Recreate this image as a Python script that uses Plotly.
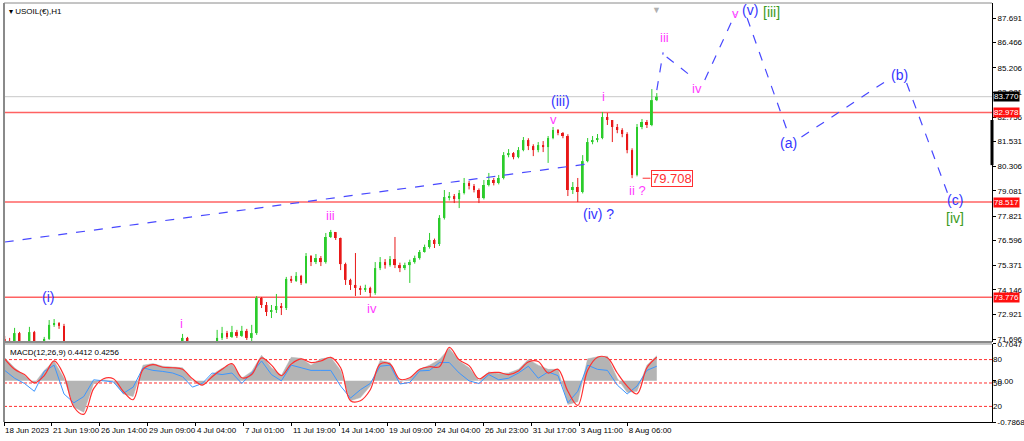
import plotly.graph_objects as go

# price candles (one candle ~ 7 hourly bars)
closes = [71.60, 71.50, 71.99, 71.45, 71.40, 72.04, 71.50, 71.35, 71.70, 72.40,
          72.49, 72.35, 71.40, 71.00, 70.60, 70.40, 70.50, 70.70, 70.80, 70.90,
          70.80, 70.70, 70.50, 70.40, 70.50, 70.80, 71.00, 71.10, 71.00, 71.20,
          71.10, 71.20, 71.30, 71.20, 71.10, 71.30, 71.75, 71.40, 71.20, 71.00,
          71.10, 71.30, 71.40, 71.75, 71.99, 71.80, 72.04, 71.85, 72.10, 71.75,
          71.99, 73.74, 73.39, 73.04, 73.14, 73.34, 73.24, 74.69, 74.59, 74.84,
          74.49, 75.83, 75.53, 75.73, 75.53, 76.78, 77.03, 76.73, 75.43, 74.64,
          74.39, 74.24, 74.14, 74.24, 73.99, 75.23, 75.53, 75.38, 75.68, 75.38,
          75.23, 75.38, 75.53, 75.73, 76.03, 76.28, 76.63, 76.43, 77.73, 78.77,
          78.82, 78.67, 78.97, 79.47, 79.32, 79.12, 78.72, 79.37, 79.62, 79.47,
          79.72, 80.86, 80.96, 80.76, 81.11, 81.61, 81.31, 81.11, 81.36, 81.26,
          81.71, 82.11, 81.96, 81.81, 79.12, 79.27, 79.02, 80.56, 81.51, 81.61,
          81.71, 82.76, 82.61, 82.26, 82.11, 81.91, 81.11, 79.87, 82.26, 82.51,
          82.36, 83.60, 83.77]
highs = [71.85, 71.75, 72.25, 72.05, 71.50, 72.30, 72.10, 71.55, 71.80, 72.64,
         72.69, 72.54, 72.45, 71.45, 71.10, 70.70, 70.60, 70.80, 70.90, 71.00,
         71.00, 70.85, 70.75, 70.60, 70.60, 70.90, 71.10, 71.20, 71.20, 71.30,
         71.30, 71.30, 71.40, 71.40, 71.30, 71.40, 71.95, 71.80, 71.45, 71.25,
         71.25, 71.45, 71.50, 72.15, 72.30, 72.10, 72.35, 72.15, 72.35, 72.20,
         72.40, 73.84, 73.79, 73.54, 73.39, 73.94, 73.49, 74.79, 74.84, 75.03,
         74.89, 75.98, 75.88, 75.93, 75.83, 76.98, 77.13, 76.98, 76.75, 75.50,
         74.70, 75.98, 74.35, 74.40, 74.30, 75.53, 75.78, 75.68, 75.83, 76.78,
         75.50, 75.50, 75.65, 75.85, 76.13, 76.40, 76.98, 76.70, 77.87, 79.12,
         79.02, 78.92, 79.12, 79.72, 79.57, 79.42, 79.20, 79.62, 79.97, 79.72,
         79.87, 81.01, 81.16, 81.01, 81.26, 81.76, 81.70, 81.40, 81.51, 81.56,
         81.81, 82.26, 82.16, 82.01, 81.90, 79.52, 79.72, 80.86, 81.71, 81.81,
         81.91, 83.01, 82.96, 82.51, 82.41, 82.20, 82.00, 81.20, 82.41, 82.66,
         82.61, 84.15, 83.95]
lows = [71.45, 71.35, 71.40, 71.35, 71.30, 71.35, 71.45, 71.25, 71.30, 71.65,
        72.30, 72.20, 71.15, 70.90, 70.50, 70.30, 70.35, 70.45, 70.65, 70.75,
        70.70, 70.60, 70.40, 70.30, 70.35, 70.45, 70.75, 70.95, 70.90, 70.95,
        71.00, 71.05, 71.15, 71.10, 71.00, 71.05, 71.25, 71.30, 71.10, 70.90,
        70.95, 71.00, 71.20, 71.35, 71.65, 71.70, 71.75, 71.75, 71.80, 71.65,
        71.40, 71.90, 73.24, 72.84, 72.74, 72.99, 72.89, 73.14, 74.49, 74.54,
        74.39, 74.45, 75.33, 75.43, 75.33, 75.45, 76.73, 76.63, 75.13, 74.39,
        74.14, 73.84, 73.89, 74.04, 73.79, 73.90, 75.13, 75.20, 75.30, 75.23,
        75.03, 75.13, 74.49, 75.45, 75.65, 76.00, 76.20, 76.23, 76.33, 77.65,
        78.60, 78.47, 78.22, 78.90, 79.15, 79.00, 78.47, 78.65, 79.30, 79.35,
        79.40, 79.65, 80.75, 80.65, 80.70, 81.05, 81.11, 80.81, 81.00, 81.01,
        80.47, 81.65, 81.85, 81.70, 78.82, 78.92, 78.52, 78.95, 80.50, 81.40,
        81.50, 81.65, 82.36, 81.51, 81.95, 81.75, 80.95, 79.71, 79.80, 82.15,
        82.21, 82.30, 83.55]
first_open = 71.70
opens = [first_open] + closes[:-1]
bars = list(range(1, 1 + 7 * len(closes), 7))

# MACD panel (one value every 14 bars)
macd_hist = [0.44, 0.25, 0.10, -0.05, 0.20, 0.38, 0.05, -0.50, -0.60, -0.05,
             0.02, 0.00, -0.25, -0.30, 0.30, 0.33, 0.28, 0.27, 0.25, 0.00,
             -0.08, 0.12, 0.24, 0.32, 0.05, 0.18, 0.49, 0.25, 0.10, 0.45,
             0.43, 0.30, 0.42, 0.45, 0.20, -0.38, -0.32, -0.10, 0.39, 0.35,
             -0.02, 0.04, 0.22, 0.30, 0.41, 0.62, 0.38, 0.25, 0.00, 0.17,
             0.14, 0.15, 0.22, 0.41, 0.30, 0.22, 0.22, -0.45, -0.40, 0.42,
             0.46, 0.47, 0.05, -0.22, -0.20, 0.30, 0.48]
macd_red = [0.42, 0.22, 0.12, -0.04, 0.10, 0.38, 0.10, -0.50, -0.64, -0.15,
            0.04, 0.04, -0.20, -0.36, 0.22, 0.31, 0.26, 0.25, 0.22, 0.04,
            -0.08, 0.08, 0.22, 0.33, 0.06, 0.12, 0.44, 0.30, 0.10, 0.32,
            0.42, 0.35, 0.38, 0.45, 0.25, -0.38, -0.38, -0.17, 0.32, 0.32,
            0.03, 0.06, 0.22, 0.27, 0.27, 0.64, 0.40, 0.29, 0.04, 0.15,
            0.16, 0.12, 0.19, 0.36, 0.37, 0.15, 0.22, -0.20, -0.47, 0.20,
            0.45, 0.44, 0.15, -0.10, -0.25, 0.25, 0.45]
macd_blue = [0.20, 0.05, -0.05, -0.20, 0.18, 0.30, -0.25, -0.42, -0.30, 0.02,
             0.00, -0.02, -0.24, -0.12, 0.25, 0.20, 0.18, 0.15, 0.08, -0.12,
             -0.05, 0.15, 0.12, 0.15, -0.05, 0.15, 0.38, 0.12, 0.00, 0.30,
             0.25, 0.20, 0.20, 0.20, -0.10, -0.33, -0.17, -0.05, 0.28, 0.30,
             -0.06, -0.03, 0.19, 0.20, 0.35, 0.35, 0.15, 0.00, -0.05, 0.12,
             0.02, 0.05, 0.15, 0.28, 0.05, 0.17, 0.10, -0.42, -0.20, 0.30,
             0.22, 0.20, -0.08, -0.25, -0.10, 0.20, 0.28]
macd_bars = list(range(1, 1 + 14 * len(macd_hist), 14))

# axis labels
price_ticks = [87.691, 86.466, 85.206, 83.981, 82.756, 81.531, 80.306,
               79.081, 77.821, 76.596, 75.371, 74.146, 72.921, 71.696]
date_labels = ["18 Jun 2023", "21 Jun 19:00", "26 Jun 14:00", "29 Jun 09:00",
               "4 Jul 04:00", "7 Jul 01:00", "11 Jul 19:00", "14 Jul 14:00",
               "19 Jul 09:00", "24 Jul 04:00", "26 Jul 23:00", "31 Jul 17:00",
               "3 Aug 11:00", "8 Aug 06:00"]
date_bars = [68 * i for i in range(len(date_labels))]

levels = [82.978, 78.517, 73.776]
last_price = 83.770
marked_low = 79.708

# trendline and projected wave path (bar, price)
trend_bars = [1, 827]
trend_prices = [76.53, 80.42]
proj_segments = [([925, 934], [84.10, 85.98]),
                 ([939, 979], [85.75, 84.65]),
                 ([993, 1036], [84.60, 87.89]),
                 ([1053, 1111], [87.69, 81.96]),
                 ([1130, 1252], [81.76, 84.60]),
                 ([1279, 1337], [84.45, 78.97])]

# wave labels: (text, bar, price, colour, size)
BLUE = "#3535ff"
PINK = "#ff3cff"
GREEN = "#3c9a1c"
wave_labels = [("(i)", 62, 73.79, BLUE, 14), ("i", 251, 72.49, PINK, 13),
               ("iii", 463, 77.87, PINK, 13), ("iv", 521, 73.24, PINK, 13),
               ("v", 778, 82.61, PINK, 13), ("(iii)", 788, 83.56, BLUE, 14),
               ("i", 849, 83.76, PINK, 13), ("(iv) ?", 842, 77.92, BLUE, 14),
               ("ii ?", 897, 79.12, PINK, 13), ("iii", 936, 86.74, PINK, 13),
               ("iv", 982, 84.20, PINK, 13), ("v", 1036, 87.94, PINK, 13),
               ("(v)", 1057, 88.09, BLUE, 14), ("[iii]", 1088, 87.99, GREEN, 14),
               ("(a)", 1111, 81.46, BLUE, 14), ("(b)", 1269, 84.85, BLUE, 14),
               ("(c)", 1347, 78.62, BLUE, 14), ("[iv]", 1347, 77.73, GREEN, 14)]

FONT = "Liberation Sans"
MAIN_DOM = [0.1909, 1]
MACD_DOM = [0, 0.1862]
UP = "#2ccc2c"
DOWN = "#e81818"

fig = go.Figure()

# candles drawn as wick lines + thin bars for bodies
for rising, col in [(True, UP), (False, DOWN)]:
    idx = [i for i in range(len(closes)) if (closes[i] >= opens[i]) == rising]
    wx, wy = [], []
    for i in idx:
        wx += [bars[i], bars[i], None]
        wy += [lows[i], highs[i], None]
    fig.add_trace(go.Scatter(x=wx, y=wy, mode="lines", line=dict(color=col, width=1),
                             showlegend=False, hoverinfo="skip"))
    fig.add_trace(go.Bar(x=[bars[i] for i in idx],
                         y=[max(abs(closes[i] - opens[i]), 0.03) for i in idx],
                         base=[min(closes[i], opens[i]) for i in idx],
                         width=2.8, marker=dict(color=col, line=dict(width=0)),
                         showlegend=False, hoverinfo="skip"))

fig.add_trace(go.Scatter(x=trend_bars, y=trend_prices, mode="lines",
                         line=dict(color="#4848ff", width=1.2, dash="dash"),
                         showlegend=False, hoverinfo="skip"))
for sx, sy in proj_segments:
    fig.add_trace(go.Scatter(x=sx, y=sy, mode="lines",
                             line=dict(color="#4848ff", width=1.2, dash="dash"),
                             showlegend=False, hoverinfo="skip"))

# MACD panel
fig.add_trace(go.Scatter(x=macd_bars, y=macd_hist, mode="lines", fill="tozeroy",
                         fillcolor="#b4b4b4", line=dict(color="#b4b4b4", width=0.5),
                         xaxis="x2", yaxis="y2", showlegend=False, hoverinfo="skip"))
fig.add_trace(go.Scatter(x=macd_bars, y=macd_blue, mode="lines",
                         line=dict(color="#3c96ff", width=1),
                         xaxis="x2", yaxis="y2", showlegend=False, hoverinfo="skip"))
fig.add_trace(go.Scatter(x=macd_bars, y=macd_red, mode="lines", line_shape="spline",
                         line=dict(color="#ff3030", width=1.2),
                         xaxis="x2", yaxis="y2", showlegend=False, hoverinfo="skip"))

shapes = []
for lv in levels:
    shapes.append(dict(type="line", xref="paper", x0=0, x1=1, yref="y", y0=lv, y1=lv,
                       line=dict(color="rgba(255,70,70,0.85)", width=1.5), layer="below"))
shapes.append(dict(type="line", xref="paper", x0=0, x1=1, yref="y", y0=last_price,
                   y1=last_price, line=dict(color="#c8c8c8", width=1), layer="below"))
for lv in [80, 50, 20]:
    shapes.append(dict(type="line", xref="paper", x0=0, x1=1, yref="y3", y0=lv, y1=lv,
                       line=dict(color="#ff3030", width=1, dash="3px,2px"), layer="below"))
shapes.append(dict(type="line", xref="x", x0=905, x1=916, yref="y", y0=marked_low,
                   y1=marked_low, line=dict(color="#ff3030", width=1)))
# frame
shapes += [
    dict(type="line", xref="paper", yref="paper", x0=0, x1=0, y0=0, y1=1,
         line=dict(color="#8a8a8a", width=2)),
    dict(type="line", xref="paper", yref="paper", x0=0, x1=1, y0=1, y1=1,
         line=dict(color="#8a8a8a", width=1)),
    dict(type="line", xref="paper", yref="paper", x0=0, x1=1, y0=MAIN_DOM[0], y1=MAIN_DOM[0],
         line=dict(color="#8a8a8a", width=2)),
    dict(type="line", xref="paper", yref="paper", x0=0, x1=1, y0=MACD_DOM[1], y1=MACD_DOM[1],
         line=dict(color="#8a8a8a", width=1)),
    dict(type="line", xref="paper", yref="y", x0=1, x1=1, y0=82.61, y1=80.36,
         line=dict(color="black", width=3)),
]

annotations = []
for text, bx, py, col, size in wave_labels:
    annotations.append(dict(x=bx, y=py, xref="x", yref="y", text=text, showarrow=False,
                            font=dict(family="Liberation Sans", size=size, color=col)))
annotations.append(dict(x=917, y=marked_low, xref="x", yref="y", text="79.708",
                        showarrow=False, xanchor="left", bgcolor="white",
                        bordercolor="#ff3030", borderwidth=1, borderpad=0,
                        font=dict(family="Liberation Sans", size=13, color="#ff3030")))
for lv in levels:
    annotations.append(dict(x=1, y=lv, xref="paper", yref="y", text=f"{lv:.3f}",
                            showarrow=False, xanchor="left", xshift=1, bgcolor="#ff1010",
                            borderpad=0, font=dict(family=FONT, size=8, color="white")))
annotations.append(dict(x=1, y=last_price, xref="paper", yref="y", text=f"{last_price:.3f}",
                        showarrow=False, xanchor="left", xshift=1, bgcolor="black",
                        borderpad=0, font=dict(family=FONT, size=8, color="white")))
annotations.append(dict(x=0, y=1, xref="paper", yref="paper", text="▾ USOIL(€),H1",
                        showarrow=False, xanchor="left", yanchor="top", xshift=3, yshift=-2,
                        font=dict(family=FONT, size=8, color="black")))
annotations.append(dict(x=0, y=MACD_DOM[1], xref="paper", yref="paper",
                        text="MACD(12,26,9) 0.4412 0.4256", showarrow=False,
                        xanchor="left", yanchor="top", xshift=4, yshift=-2,
                        font=dict(family=FONT, size=8, color="black")))
annotations.append(dict(x=925, y=1, xref="x", yref="paper", text="▼", showarrow=False,
                        yanchor="top", font=dict(size=9, color="#b0b0b0")))

fig.update_layout(
    width=1024, height=441,
    margin=dict(l=4, r=32, t=3, b=19, autoexpand=False),
    paper_bgcolor="white", plot_bgcolor="white",
    font=dict(family=FONT, size=8, color="black"),
    shapes=shapes, annotations=annotations, barmode="overlay",
    xaxis=dict(range=[0, 1400], domain=[0, 1], anchor="y", showticklabels=False,
               showgrid=False, zeroline=False, automargin=False),
    yaxis=dict(range=[71.546, 88.439], domain=MAIN_DOM, side="right", anchor="x",
               tickvals=price_ticks, ticktext=[f"{v:.3f}" for v in price_ticks],
               ticks="outside", ticklen=3, tickcolor="black", showline=True,
               linecolor="black", linewidth=1, showgrid=False, zeroline=False,
               tickfont=dict(size=8), automargin=False),
    xaxis2=dict(range=[0, 1400], domain=[0, 1], anchor="y2", matches="x",
                tickvals=date_bars, ticktext=date_labels, ticks="outside", ticklen=3,
                tickcolor="black", showline=True, linecolor="black", showgrid=False,
                zeroline=False, tickangle=0, ticklabelposition="outside right",
                tickfont=dict(size=8), automargin=False),
    yaxis2=dict(range=[-0.7868, 0.7047], domain=MACD_DOM, side="right", anchor="x2",
                tickvals=[0.7047, 0.0, -0.7868], ticktext=["0.7047", "0.00", "-0.7868"],
                ticks="outside", ticklen=3, tickcolor="black", showline=True,
                linecolor="black", showgrid=False, zeroline=False, tickfont=dict(size=8),
                automargin=False),
    yaxis3=dict(range=[0, 100], overlaying="y2", side="right", anchor="x2",
                tickvals=[80, 50, 20], ticktext=["80", "50", "20"], ticks="",
                showgrid=False, zeroline=False, tickfont=dict(size=8), automargin=False),
)

fig.write_html("out.html", config={"displayModeBar": False},
               post_script="document.body.style.margin='0px';")
